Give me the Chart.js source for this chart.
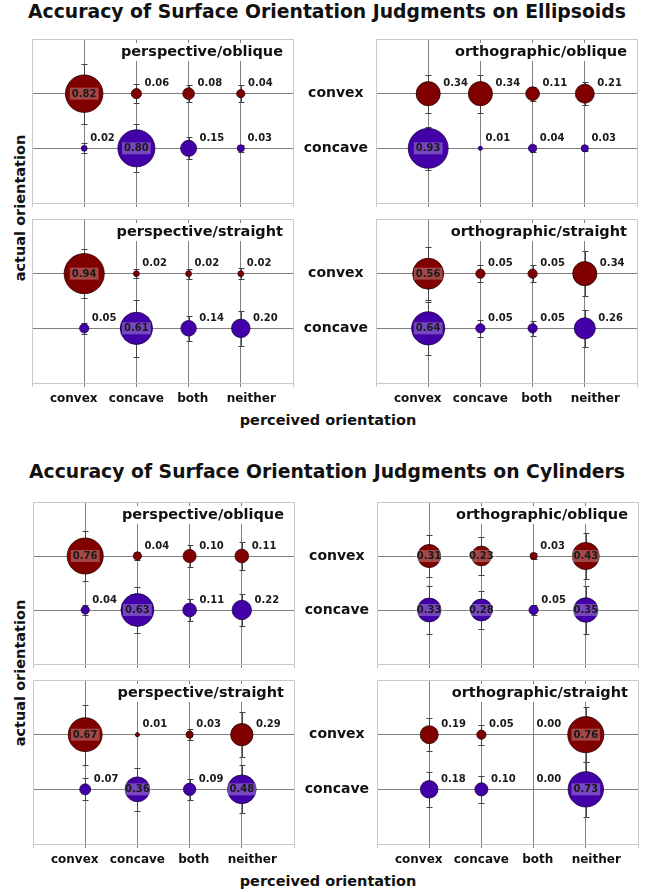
<!DOCTYPE html>
<html>
<head>
<meta charset="utf-8">
<script src="https://cdn.jsdelivr.net/npm/chart.js@4.4.1/dist/chart.umd.min.js"></script>
<style>
  body { margin: 0; background: #fff; width: 646px; height: 892px; position: relative; overflow: hidden; font-family: "DejaVu Sans", sans-serif; }
  .t { position: absolute; font-weight: bold; color: #111; white-space: nowrap; }
  .main { left: 4px; width: 646px; text-align: center; font-size: 18.8px; height: 24px; line-height: 24px; }
  .xt { left: 228px; width: 200px; text-align: center; font-size: 14.5px; height: 20px; line-height: 20px; }
  .yt { left: -80px; width: 200px; text-align: center; font-size: 14.5px; height: 20px; line-height: 20px; transform: rotate(-90deg); }
  canvas { position: absolute; }
</style>
</head>
<body>
<div class="t main" style="top:0px">Accuracy of Surface Orientation Judgments on Ellipsoids</div>
<div class="t yt" style="top:198px">actual orientation</div>
<div class="t xt" style="top:410px">perceived orientation</div>
<div class="t main" style="top:460px">Accuracy of Surface Orientation Judgments on Cylinders</div>
<div class="t yt" style="top:663px">actual orientation</div>
<div class="t xt" style="top:871px">perceived orientation</div>

<script>
// perceived orientation (x) and actual orientation (y)
const categories = ['convex', 'concave', 'both', 'neither'];
const rowLabels = ['', 'concave', 'convex', ''];

// ellipsoids: proportion of responses, one value per perceived category
const ellPerspObliqueConvex = [0.82, 0.06, 0.08, 0.04];
const ellPerspObliqueConcave = [0.02, 0.80, 0.15, 0.03];
const ellOrthoObliqueConvex = [0.34, 0.34, 0.11, 0.21];
const ellOrthoObliqueConcave = [0.93, 0.01, 0.04, 0.03];
const ellPerspStraightConvex = [0.94, 0.02, 0.02, 0.02];
const ellPerspStraightConcave = [0.05, 0.61, 0.14, 0.20];
const ellOrthoStraightConvex = [0.56, 0.05, 0.05, 0.34];
const ellOrthoStraightConcave = [0.64, 0.05, 0.05, 0.26];

// ellipsoids: error bar half-lengths (in row units)
const ellPerspObliqueConvexErr = [0.55, 0.17, 0.16, 0.16];
const ellPerspObliqueConcaveErr = [0.09, 0.44, 0.20, 0.07];
const ellOrthoObliqueConvexErr = [0.35, 0.35, 0.13, 0.21];
const ellOrthoObliqueConcaveErr = [0.39, 0, 0.06, 0.05];
const ellPerspStraightConvexErr = [0.45, 0.08, 0.09, 0.10];
const ellPerspStraightConcaveErr = [0.10, 0.52, 0.23, 0.32];
const ellOrthoStraightConvexErr = [0.48, 0.15, 0.15, 0.41];
const ellOrthoStraightConcaveErr = [0.49, 0.15, 0.14, 0.34];

// cylinders
const cylPerspObliqueConvex = [0.76, 0.04, 0.10, 0.11];
const cylPerspObliqueConcave = [0.04, 0.63, 0.11, 0.22];
const cylOrthoObliqueConvex = [0.31, 0.23, 0.03, 0.43];
const cylOrthoObliqueConcave = [0.33, 0.28, 0.05, 0.35];
const cylPerspStraightConvex = [0.67, 0.01, 0.03, 0.29];
const cylPerspStraightConcave = [0.07, 0.36, 0.09, 0.48];
const cylOrthoStraightConvex = [0.19, 0.05, 0.00, 0.76];
const cylOrthoStraightConcave = [0.18, 0.10, 0.00, 0.73];

const cylPerspObliqueConvexErr = [0.47, 0.08, 0.20, 0.26];
const cylPerspObliqueConcaveErr = [0.09, 0.43, 0.20, 0.29];
const cylOrthoObliqueConvexErr = [0.38, 0.35, 0.06, 0.42];
const cylOrthoObliqueConcaveErr = [0.44, 0.35, 0.10, 0.44];
const cylPerspStraightConvexErr = [0.55, 0, 0.10, 0.41];
const cylPerspStraightConcaveErr = [0.20, 0.39, 0.19, 0.44];
const cylOrthoStraightConvexErr = [0.30, 0.18, 0, 0.50];
const cylOrthoStraightConcaveErr = [0.32, 0.25, 0, 0.50];

const RED = '#800000';
const PURPLE = '#4400a8';
const GRID = '#808080';
const EDGE = '#c8c8c8';
const FONT = '"DejaVu Sans", sans-serif';

const bubbleR = v => 20.7 * Math.sqrt(v);

// the x labels sit a little off their gridlines in the original, padding nudges them
const xLabelText = ['convex     ', 'concave', '  both', '     neither'];

const panels = [
  { left: 32, top: 39, h: 164, title: 'perspective/oblique', showX: false, showY: false, inside: 0.5,
    convex: ellPerspObliqueConvex, concave: ellPerspObliqueConcave, convexErr: ellPerspObliqueConvexErr, concaveErr: ellPerspObliqueConcaveErr },
  { left: 376, top: 39, h: 164, title: 'orthographic/oblique', showX: false, showY: true, inside: 0.5,
    convex: ellOrthoObliqueConvex, concave: ellOrthoObliqueConcave, convexErr: ellOrthoObliqueConvexErr, concaveErr: ellOrthoObliqueConcaveErr },
  { left: 32, top: 219, h: 164, title: 'perspective/straight', showX: true, showY: false, inside: 0.5,
    convex: ellPerspStraightConvex, concave: ellPerspStraightConcave, convexErr: ellPerspStraightConvexErr, concaveErr: ellPerspStraightConcaveErr },
  { left: 376, top: 219, h: 164, title: 'orthographic/straight', showX: true, showY: true, inside: 0.5,
    convex: ellOrthoStraightConvex, concave: ellOrthoStraightConcave, convexErr: ellOrthoStraightConvexErr, concaveErr: ellOrthoStraightConcaveErr },
  { left: 33, top: 502, h: 162, title: 'perspective/oblique', showX: false, showY: false, inside: 0.3,
    convex: cylPerspObliqueConvex, concave: cylPerspObliqueConcave, convexErr: cylPerspObliqueConvexErr, concaveErr: cylPerspObliqueConcaveErr },
  { left: 377, top: 502, h: 162, title: 'orthographic/oblique', showX: false, showY: true, inside: 0.2,
    convex: cylOrthoObliqueConvex, concave: cylOrthoObliqueConcave, convexErr: cylOrthoObliqueConvexErr, concaveErr: cylOrthoObliqueConcaveErr },
  { left: 33, top: 680, h: 164, title: 'perspective/straight', showX: true, showY: false, inside: 0.3,
    convex: cylPerspStraightConvex, concave: cylPerspStraightConcave, convexErr: cylPerspStraightConvexErr, concaveErr: cylPerspStraightConcaveErr },
  { left: 377, top: 680, h: 164, title: 'orthographic/straight', showX: true, showY: true, inside: 0.3,
    convex: cylOrthoStraightConvex, concave: cylOrthoStraightConcave, convexErr: cylOrthoStraightConvexErr, concaveErr: cylOrthoStraightConcaveErr }
];

// error bars go under the bubbles
const errorBars = {
  id: 'errorBars',
  beforeDatasetsDraw(chart) {
    const { ctx, scales: { x, y } } = chart;
    ctx.save();
    ctx.strokeStyle = '#444';
    ctx.lineWidth = 1;
    chart.data.datasets.forEach(ds => {
      ds.errors.forEach((e, i) => {
        if (!e) return;
        const px = Math.round(x.getPixelForValue(i + 1)) + 0.5;
        const top = Math.round(y.getPixelForValue(ds.row + e)) + 0.5;
        const bot = Math.round(y.getPixelForValue(ds.row - e)) + 0.5;
        ctx.beginPath();
        ctx.moveTo(px, top); ctx.lineTo(px, bot);
        ctx.moveTo(px - 3, top); ctx.lineTo(px + 3, top);
        ctx.moveTo(px - 3, bot); ctx.lineTo(px + 3, bot);
        ctx.stroke();
      });
    });
    ctx.restore();
  }
};

const valueLabels = {
  id: 'valueLabels',
  afterDatasetsDraw(chart, args, opts) {
    const ctx = chart.ctx;
    ctx.save();
    ctx.font = 'bold 10px ' + FONT;
    ctx.textBaseline = 'middle';
    chart.data.datasets.forEach((ds, di) => {
      const meta = chart.getDatasetMeta(di);
      ds.values.forEach((v, i) => {
        const el = meta.data[i];
        const txt = v.toFixed(2);
        if (v >= opts.inside) {
          const w = ctx.measureText(txt).width + 4;
          ctx.fillStyle = 'rgba(255,255,255,0.28)';
          ctx.fillRect(el.x - w / 2, el.y - 6, w, 12);
          ctx.fillStyle = '#1a1a1a';
          ctx.textAlign = 'center';
          ctx.fillText(txt, el.x, el.y + 0.5);
        } else {
          ctx.fillStyle = '#1a1a1a';
          ctx.textAlign = 'left';
          ctx.fillText(txt, el.x + bubbleR(v) + 3, el.y - 10);
        }
      });
    });
    ctx.restore();
  }
};

const panelTitle = {
  id: 'panelTitle',
  afterDraw(chart, args, opts) {
    const { ctx, chartArea } = chart;
    ctx.save();
    ctx.font = 'bold 14.5px ' + FONT;
    const w = ctx.measureText(opts.text).width;
    const rx = chartArea.right - 10;
    const cy = chartArea.top + 13;
    ctx.fillStyle = '#fff';
    ctx.fillRect(rx - w - 3, cy - 9, w + 6, 18);
    ctx.fillStyle = '#111';
    ctx.textAlign = 'right';
    ctx.textBaseline = 'middle';
    ctx.fillText(opts.text, rx, cy);
    ctx.restore();
  }
};

function points(values, row) {
  return values.map((v, i) => ({ x: i + 1, y: row, r: bubbleR(v) }));
}

function drawPanel(p) {
  const plotW = 261;
  const yAxisW = p.showY ? 86 : 10;
  const xAxisH = p.showX ? 32 : 8;
  const padTop = 2, padRight = 4;
  const cv = document.createElement('canvas');
  cv.width = yAxisW + plotW + padRight;
  cv.height = padTop + p.h + xAxisH;
  cv.style.left = (p.left - yAxisW) + 'px';
  cv.style.top = (p.top - padTop) + 'px';
  document.body.appendChild(cv);

  new Chart(cv, {
    type: 'bubble',
    data: {
      datasets: [
        { data: points(p.convex, 2), values: p.convex, errors: p.convexErr, row: 2,
          backgroundColor: RED, borderColor: '#2a0000',
          borderWidth: c => (c.raw && c.raw.r > 0 ? 0.8 : 0) },
        { data: points(p.concave, 1), values: p.concave, errors: p.concaveErr, row: 1,
          backgroundColor: PURPLE, borderColor: '#1a0040',
          borderWidth: c => (c.raw && c.raw.r > 0 ? 0.8 : 0) }
      ]
    },
    options: {
      responsive: false,
      animation: false,
      events: [],
      layout: { autoPadding: false, padding: { top: padTop, right: padRight, left: 0, bottom: 0 } },
      plugins: {
        legend: { display: false },
        tooltip: { enabled: false },
        valueLabels: { inside: p.inside },
        panelTitle: { text: p.title }
      },
      scales: {
        x: {
          type: 'linear', min: 0, max: 5,
          afterBuildTicks: s => { s.ticks = [0, 1, 2, 3, 4, 5].map(v => ({ value: v })); },
          afterFit: s => { s.height = xAxisH; s.paddingLeft = 0; s.paddingRight = 0; },
          grid: { color: c => (c.tick && c.tick.value > 0 && c.tick.value < 5 ? GRID : EDGE), tickLength: 4, lineWidth: 1 },
          border: { color: EDGE },
          ticks: {
            display: p.showX, padding: 5, maxRotation: 0, autoSkip: false,
            color: '#111', font: { family: FONT, size: 12, weight: 'bold' },
            callback: v => (categories[v - 1] ? xLabelText[v - 1] : '')
          }
        },
        y: {
          type: 'linear', min: 0, max: 3,
          afterBuildTicks: s => { s.ticks = [0, 1, 2, 3].map(v => ({ value: v })); },
          afterFit: s => { s.width = yAxisW; s.paddingTop = 0; s.paddingBottom = 0; },
          grid: { color: c => (c.tick && c.tick.value > 0 && c.tick.value < 3 ? GRID : EDGE), drawTicks: false, lineWidth: 1 },
          border: { color: EDGE },
          ticks: {
            display: p.showY, padding: 8, crossAlign: 'center',
            color: '#111', font: { family: FONT, size: 14, weight: 'bold' },
            callback: v => rowLabels[v]
          }
        }
      }
    },
    plugins: [errorBars, valueLabels, panelTitle]
  });
}

panels.forEach(drawPanel);
</script>
</body>
</html>
